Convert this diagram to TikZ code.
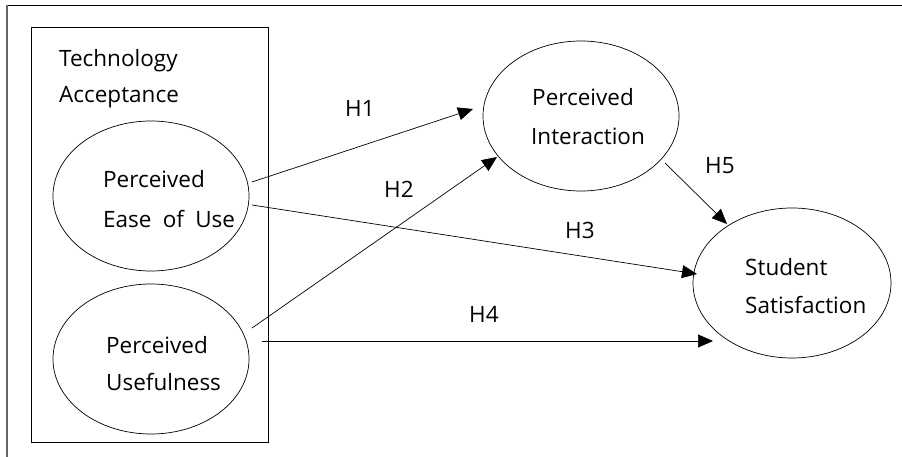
\documentclass[tikz,border=0pt]{standalone}
\usepackage{fontspec}
\setmainfont{Open Sans}
\usetikzlibrary{shapes.geometric,arrows.meta}
\begin{document}
\begin{tikzpicture}[x=1pt,y=-1pt,
  construct/.style={draw,line width=0.7pt,ellipse,inner sep=0pt,
                    minimum width=196pt,minimum height=150pt},
  lbl/.style={anchor=base west,inner sep=0pt,font=\fontsize{22.5}{27}\selectfont},
  path/.style={line width=0.7pt,-{Triangle[length=15pt,width=13pt]}}]
\useasboundingbox (0,0) rectangle (902,457);

% page frame (top and left rules)
\draw[line width=0.8pt] (902,5) -- (7,5);
\draw[line width=1.4pt,black!60] (7,5) -- (7,457);

% technology acceptance group
\draw[line width=1pt] (31,28) rectangle (268,442);
\node[lbl] (ta1) at (59,67) {Technology};
\node[lbl] (ta2) at (59,103) {Acceptance};

% constructs
\node[construct] (pe) at (151,196) {};
\node[construct] (pu) at (151,359) {};
\node[construct] (pi) at (581,116) {};
\node[construct,minimum width=198pt] (ss) at (792,283) {};

\node[lbl] (pe1) at (103,188) {Perceived};
\node[lbl] (pe2) at (103,227) {Ease\hspace{0.5em}of\hspace{0.5em}Use};
\node[lbl] (pu1) at (106,353) {Perceived};
\node[lbl] (pu2) at (106,390) {Usefulness};
\node[lbl] (pi1) at (532,106) {Perceived};
\node[lbl] (pi2) at (531,145) {Interaction};
\node[lbl] (ss1) at (745,275) {Student};
\node[lbl] (ss2) at (745,313) {Satisfaction};

% hypothesised paths
\draw[path] ([shift={(101,-14)}]pe.center) -- ([shift={(-108,-7)}]pi.center);
\draw[path] ([shift={(101,-31)}]pu.center) -- ([shift={(-84,41)}]pi.center);
\draw[path] ([shift={(101,9)}]pe.center) -- ([shift={(-95,-9)}]ss.center);
\draw[path] ([shift={(111,-18)}]pu.center) -- ([shift={(-79,58)}]ss.center);
\draw[path] ([shift={(84,47)}]pi.center) -- ([shift={(-65,-59)}]ss.center);

\node[lbl] (h1) at (345,117) {H1};
\node[lbl] (h2) at (384,198) {H2};
\node[lbl] (h3) at (565,239) {H3};
\node[lbl] (h4) at (469,322) {H4};
\node[lbl] (h5) at (705,174) {H5};
\end{tikzpicture}
\end{document}
